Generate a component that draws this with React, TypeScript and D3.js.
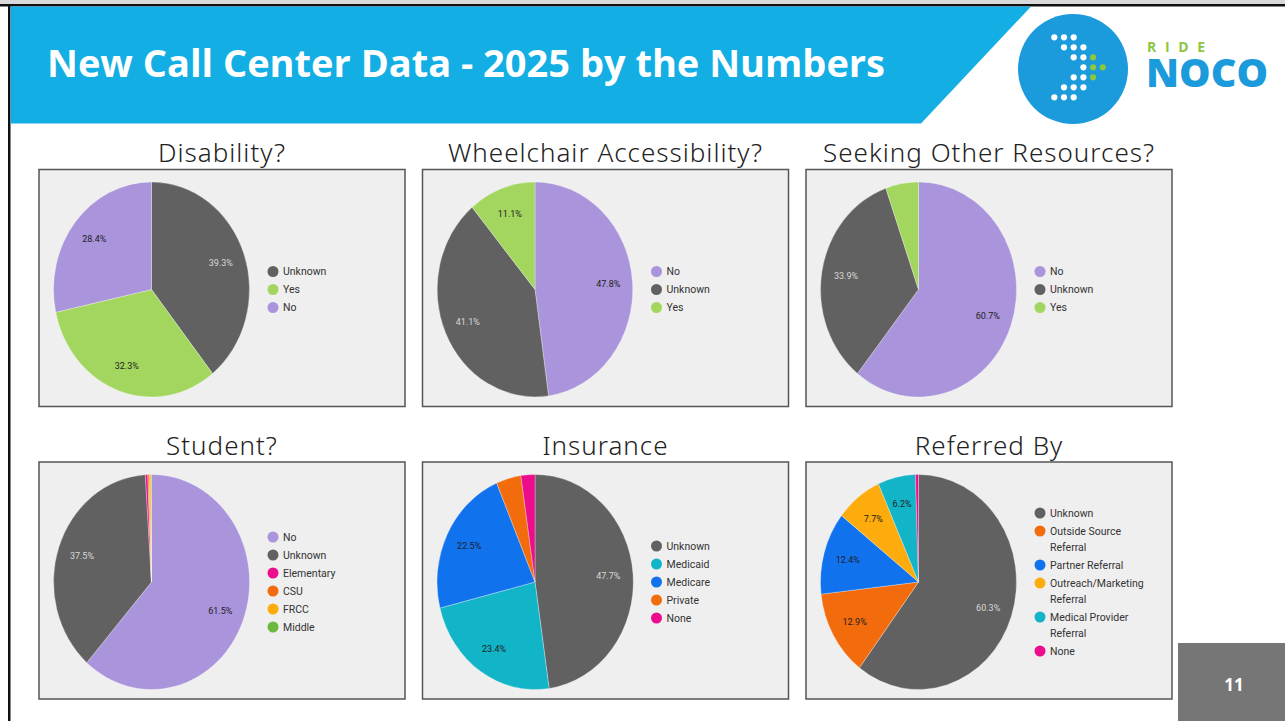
import React from "react";
import * as d3 from "d3";

// ---- data ----
const chartTitles = [
  "Disability?",
  "Wheelchair Accessibility?",
  "Seeking Other Resources?",
  "Student?",
  "Insurance",
  "Referred By",
];

const disabilityLabels = ["Unknown", "Yes", "No"];
const disabilityValues = [39.3, 32.3, 28.4];

const wheelchairLabels = ["No", "Unknown", "Yes"];
const wheelchairValues = [47.8, 41.1, 11.1];

const resourcesLabels = ["No", "Unknown", "Yes"];
const resourcesValues = [60.7, 33.9, 5.4];

const studentLabels = ["No", "Unknown", "Elementary", "CSU", "FRCC", "Middle"];
const studentValues = [61.5, 37.5, 0.4, 0.2, 0.3, 0.1];

const insuranceLabels = ["Unknown", "Medicaid", "Medicare", "Private", "None"];
const insuranceValues = [47.7, 23.4, 22.5, 4.1, 2.3];

const referredLabels = [
  "Unknown",
  "Outside Source Referral",
  "Partner Referral",
  "Outreach/Marketing Referral",
  "Medical Provider Referral",
  "None",
];
const referredValues = [60.3, 12.9, 12.4, 7.7, 6.2, 0.5];

// colours by category name
const palette: Record<string, string> = {
  Unknown: "#616161",
  Yes: "#a3d65f",
  No: "#aa94db",
  Elementary: "#ec0c8c",
  CSU: "#f26b0c",
  FRCC: "#fdab0d",
  Middle: "#6cb83c",
  Medicaid: "#12b4c8",
  Medicare: "#1172ee",
  Private: "#f26b0c",
  None: "#ec0c8c",
  "Outside Source Referral": "#f26b0c",
  "Partner Referral": "#1172ee",
  "Outreach/Marketing Referral": "#fdab0d",
  "Medical Provider Referral": "#12b4c8",
};

const charts = [
  { labels: disabilityLabels, values: disabilityValues },
  { labels: wheelchairLabels, values: wheelchairValues },
  { labels: resourcesLabels, values: resourcesValues },
  { labels: studentLabels, values: studentValues },
  { labels: insuranceLabels, values: insuranceValues },
  { labels: referredLabels, values: referredValues },
];

const W = 1285;
const H = 721;
const panelW = 366;
const panelH = 237;
const colX = [39, 422.5, 806];
const rowY = [169.5, 462];
const rx = 98;
const ry = 107.5;

const pie = d3.pie<number>().sort(null).value((d) => d);
const arc = d3.arc<d3.PieArcDatum<number>>().innerRadius(0).outerRadius(1);
const fmt = d3.format(".1f");

function wrapLabel(s: string): string[] {
  if (s.length <= 16) return [s];
  const i = s.lastIndexOf(" ");
  return [s.slice(0, i), s.slice(i + 1)];
}

function PiePanel({ idx }: { idx: number }) {
  const { labels, values } = charts[idx];
  const x0 = colX[idx % 3];
  const y0 = rowY[Math.floor(idx / 3)];
  const cx = 112.5;
  const cy = 120;
  const arcs = pie(values);

  // legend layout
  const lines = labels.map(wrapLabel);
  const offs: number[] = [];
  let acc = 0;
  lines.forEach((l) => {
    offs.push(acc);
    acc += 18 + 16 * (l.length - 1);
  });
  const span = offs[offs.length - 1];
  const ly0 = cy - span / 2;

  return (
    <g transform={`translate(${x0},${y0})`}>
      <text
        x={panelW / 2}
        y={-7.5}
        textAnchor="middle"
        fontFamily="'Noto Sans', sans-serif"
        fontWeight={300}
        fontSize={26}
        letterSpacing={1}
        fill="#222"
      >
        {chartTitles[idx]}
      </text>
      <rect
        width={panelW}
        height={panelH}
        fill="#efefef"
        stroke="#555"
        strokeWidth={1.5}
      />
      <g transform={`translate(${cx},${cy}) scale(${rx},${ry})`}>
        {arcs.map((a, i) => (
          <path
            key={i}
            d={arc(a) as string}
            fill={palette[labels[i]]}
            stroke="#fff"
            strokeOpacity={0.5}
            strokeWidth={0.6}
            vectorEffect="non-scaling-stroke"
          />
        ))}
      </g>
      {arcs.map((a, i) => {
        if (a.data < 6) return null;
        const m = (a.startAngle + a.endAngle) / 2;
        const px = cx + Math.sin(m) * 0.75 * rx;
        const py = cy - Math.cos(m) * 0.75 * ry;
        return (
          <text
            key={i}
            x={px}
            y={py}
            dy="0.35em"
            textAnchor="middle"
            fontFamily="Roboto, sans-serif"
            fontSize={9}
            fill={labels[i] === "Unknown" ? "#d8d8d8" : "#1e1e1e"}
          >
            {fmt(a.data)}%
          </text>
        );
      })}
      {labels.map((l, i) => (
        <g key={l} transform={`translate(234,${ly0 + offs[i]})`}>
          <circle r={5.5} fill={palette[l]} />
          {lines[i].map((t, j) => (
            <text
              key={j}
              x={10}
              y={j * 16}
              dy="0.35em"
              fontFamily="Roboto, sans-serif"
              fontSize={10.5}
              fill="#333"
            >
              {t}
            </text>
          ))}
        </g>
      ))}
    </g>
  );
}

function Logo() {
  const step = 9.7;
  // chevron dot rows: [column index, green?]
  const rows: [number, boolean][][] = [
    [[0, false], [1, false], [2, false]],
    [[1, false], [2, false], [3, false]],
    [[2, false], [3, false], [4, true]],
    [[3, false], [4, true], [5, true]],
    [[2, false], [3, false], [4, true]],
    [[1, false], [2, false], [3, false]],
    [[0, false], [1, false], [2, false]],
  ];
  return (
    <g>
      <circle cx={1073} cy={69} r={55} fill="#1b9bdb" />
      {rows.map((r, ri) =>
        r.map(([c, g], ci) => (
          <circle
            key={`${ri}-${ci}`}
            cx={1054.3 + c * step}
            cy={37.3 + ri * 10}
            r={3.1}
            fill={g ? "#8dc63f" : "#fff"}
          />
        ))
      )}
      <text
        x={1147}
        y={52}
        fontFamily="'Open Sans', sans-serif"
        fontWeight={700}
        fontSize={14}
        fill="#8dc63f"
        textLength={58}
        lengthAdjust="spacing"
      >
        RIDE
      </text>
      <text
        x={1146}
        y={87}
        fontFamily="'Open Sans', sans-serif"
        fontWeight={800}
        fontSize={33}
        fill="#1b9bdb"
        textLength={122}
        lengthAdjust="spacingAndGlyphs"
        transform="translate(0,-14.8) scale(1,1.17)"
      >
        NOCO
      </text>
    </g>
  );
}

export default function App() {
  return (
    <svg
      width={W}
      height={H}
      style={{ position: "absolute", left: 0, top: 0, display: "block" }}
    >
      <rect width={W} height={H} fill="#fff" />
      <rect width={W} height={4} fill="#d9d9d9" />
      <rect y={4} width={W} height={2.5} fill="#111" />
      <rect x={8} y={4} width={2.5} height={H} fill="#111" />
      <path d="M10.5,6.5 L1031,6.5 L921,123.5 L10.5,123.5 Z" fill="#12aee4" />
      <text
        x={47}
        y={77}
        fontFamily="'Liberation Sans Narrow', 'Open Sans', sans-serif"
        fontWeight={700}
        fontSize={38}
        fill="#fff"
        textLength={838}
        lengthAdjust="spacingAndGlyphs"
      >
        New Call Center Data - 2025 by the Numbers
      </text>
      <Logo />
      {charts.map((_, i) => (
        <PiePanel key={i} idx={i} />
      ))}
      <rect x={1178} y={643} width={W - 1178} height={H - 643} fill="#767676" />
      <text
        x={1234}
        y={685}
        dy="0.35em"
        textAnchor="middle"
        fontFamily="'Open Sans', sans-serif"
        fontWeight={700}
        fontSize={17}
        fill="#fff"
      >
        11
      </text>
    </svg>
  );
}
